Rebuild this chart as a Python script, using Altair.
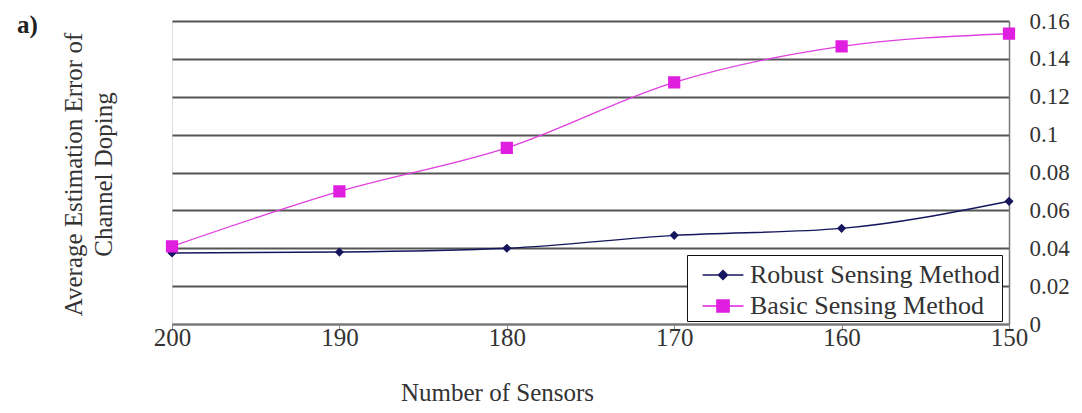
import altair as alt
import pandas as pd

sensors = [200, 190, 180, 170, 160, 150]
robust = [0.0375, 0.038, 0.040, 0.0468, 0.0505, 0.0648]
basic = [0.041, 0.070, 0.093, 0.1276, 0.1466, 0.1533]
series_names = ["Robust Sensing Method", "Basic Sensing Method"]
series_colors = ["#16165e", "#e01ee0"]
line_colors = ["#16165e", "#e040e0"]
series_shapes = [
    "M-1.2,0H1.2M0,-0.27L0.27,0L0,0.27L-0.27,0Z",
    "M-1.2,0H1.2M-0.36,-0.36H0.36V0.36H-0.36Z",
]
y_ticks = [0, 0.02, 0.04, 0.06, 0.08, 0.1, 0.12, 0.14, 0.16]
x_ticks = [200, 190, 180, 170, 160, 150]
y_title = ["Average Estimation Error of", "Channel Doping"]
x_title = "Number of Sensors"
panel_label = "a)"

rows = []
for name, vals in zip(series_names, [robust, basic]):
    for s, v in zip(sensors, vals):
        rows.append({"sensors": s, "error": v, "series": name})
df = pd.DataFrame(rows)

FONT = "Liberation Serif"
TXT = "#333333"

x_enc = alt.X(
    "sensors:Q",
    scale=alt.Scale(domain=[150, 200], reverse=True, nice=False, zero=False),
    axis=alt.Axis(
        values=x_ticks, format="d", grid=False, title=x_title, labelFlush=False,
        labelFont=FONT, labelFontSize=25, labelColor=TXT, labelPadding=-5,
        tickSize=6, tickColor="#888", domainColor="#777", domainWidth=1.5,
        titleFont=FONT, titleFontSize=25, titleFontWeight="normal", titleColor=TXT,
        titleX=325, titleY=68, titleAnchor="start", titleAlign="center", titleBaseline="middle",
    ),
)
y_enc = alt.Y(
    "error:Q",
    scale=alt.Scale(domain=[0, 0.16], nice=False),
    axis=alt.Axis(
        orient="right", values=y_ticks, format="~g", grid=True, labelFlush=False,
        gridColor="#555", gridWidth=1.8, ticks=False,
        domainColor="#777", domainWidth=1.5,
        labelFont=FONT, labelFontSize=23, labelColor=TXT, labelPadding=20,
        title=y_title, titleFont=FONT, titleFontSize=25, titleFontWeight="normal",
        titleColor=TXT, titleAngle=270, titleX=-936, titleY=153,
        titleAlign="center", titleBaseline="middle", titleLineHeight=30,
    ),
)

color_scale = alt.Scale(domain=series_names, range=series_colors)

line_layers = [
    alt.Chart(df).transform_filter(alt.datum.series == name)
    .mark_line(interpolate="monotone", strokeWidth=1.4, color=col)
    .encode(x=x_enc, y=y_enc)
    for name, col in zip(series_names, line_colors)
]

legend = alt.Legend(
    title=None, orient="none", legendX=515, legendY=234,
    strokeColor="#111", fillColor="white", padding=2, symbolOffset=16,
    labelFont=FONT, labelFontSize=26, labelColor=TXT, labelOffset=9,
    symbolSize=1156, symbolStrokeWidth=1.4, rowPadding=0, labelLimit=400,
)

points = alt.Chart(df).mark_point(filled=True, size=1156, strokeWidth=0, opacity=1).encode(
    x=x_enc, y=y_enc,
    fill=alt.Fill("series:N", scale=color_scale, legend=legend),
    stroke=alt.Stroke("series:N", scale=color_scale, legend=legend),
    shape=alt.Shape("series:N", scale=alt.Scale(domain=series_names, range=series_shapes), legend=legend),
)

chart = alt.layer(*line_layers, points).properties(
    width=837, height=303,
    autosize=alt.AutoSizeParams(type="none"),
    padding={"left": 164, "top": 13, "right": 65, "bottom": 81},
    title=alt.TitleParams(panel_label, anchor="start", frame="group", orient="top",
                          font=FONT, fontSize=25, fontWeight="bold", color="#222",
                          dx=-155, dy=40, baseline="middle", offset=0),
).configure_view(stroke="#777", strokeWidth=1.5).configure(background="white")

chart.save("out.html", embed_options={"renderer": "svg", "actions": False})
